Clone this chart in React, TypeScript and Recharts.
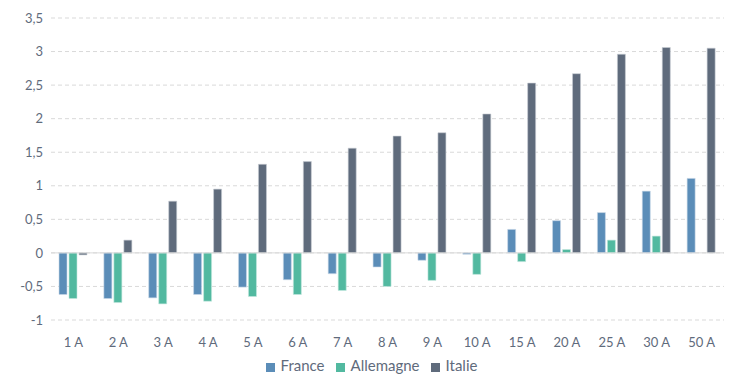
import React from 'react';
import {
    BarChart,
    Bar,
    XAxis,
    YAxis,
    CartesianGrid,
    Legend,
    ReferenceLine
} from 'recharts';

const maturities = ['1 A', '2 A', '3 A', '4 A', '5 A', '6 A', '7 A', '8 A', '9 A', '10 A', '15 A', '20 A', '25 A', '30 A', '50 A'];
const france = [-0.62, -0.68, -0.67, -0.62, -0.51, -0.4, -0.31, -0.21, -0.11, -0.02, 0.35, 0.48, 0.6, 0.92, 1.11];
const allemagne = [-0.68, -0.74, -0.76, -0.72, -0.65, -0.62, -0.56, -0.5, -0.41, -0.32, -0.13, 0.05, 0.19, 0.25, 0];
const italie = [-0.03, 0.19, 0.77, 0.95, 1.32, 1.36, 1.56, 1.74, 1.79, 2.07, 2.53, 2.67, 2.96, 3.06, 3.05];
const yTicks = [-1, -0.5, 0, 0.5, 1, 1.5, 2, 2.5, 3, 3.5];
const seriesOrder = ['France', 'Allemagne', 'Italie'];

const data = maturities.map((m, i) => ({
    name: m,
    France: france[i],
    Allemagne: allemagne[i],
    Italie: italie[i]
}));

const textColor = '#5f6b7c';
const font = 'Lato, "Noto Sans", sans-serif';

const App: React.FC = () => {
    return (
        <div style={{ position: 'absolute', top: 0, left: 0, fontFamily: font }}>
            <BarChart
                width={729}
                height={374}
                data={data}
                margin={{ top: 18, right: 5, left: 0, bottom: 0 }}
                barSize={8}
                barGap={2}
            >
                <CartesianGrid vertical={false} strokeDasharray="4 3" stroke="#d9d9d9" />
                <XAxis
                    dataKey="name"
                    axisLine={false}
                    tickLine={false}
                    tickMargin={12}
                    height={24}
                    tick={{ fill: textColor, fontSize: 13, fontFamily: font }}
                    interval={0}
                />
                <YAxis
                    width={51}
                    domain={[-1, 3.5]}
                    ticks={yTicks}
                    axisLine={false}
                    tickLine={false}
                    tickFormatter={(v: number) => String(v).replace('.', ',')}
                    tick={{ fill: textColor, fontSize: 13, fontFamily: font }}
                />
                <ReferenceLine y={0} stroke="#d9d9d9" strokeWidth={1} />
                <Legend
                    iconType="square"
                    iconSize={9}
                    height={30}
                    itemSorter={(item: any) => seriesOrder.indexOf(item.value)}
                    wrapperStyle={{ top: 356, left: 15, fontSize: 15, color: textColor, fontFamily: font }}
                    formatter={(value: string) => (
                        <span style={{ color: textColor, marginLeft: 2, marginRight: 1 }}>{value}</span>
                    )}
                />
                <Bar dataKey="France" fill="#5b8db8" stroke="#c9d9e8" strokeWidth={0.6} isAnimationActive={false} />
                <Bar dataKey="Allemagne" fill="#52b9a0" stroke="#c5e8df" strokeWidth={0.6} isAnimationActive={false} />
                <Bar dataKey="Italie" fill="#5f6b7c" stroke="#c8ccd3" strokeWidth={0.6} isAnimationActive={false} />
            </BarChart>
        </div>
    );
};

export default App;
